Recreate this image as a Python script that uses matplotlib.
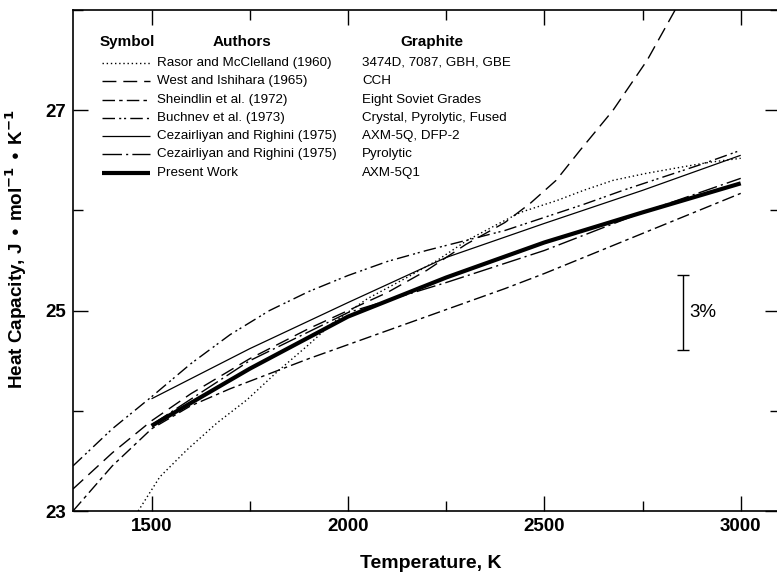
import matplotlib
matplotlib.use("Agg")
import matplotlib.pyplot as plt
from matplotlib.ticker import MultipleLocator

plt.rcParams['font.family'] = ['Liberation Sans', 'DejaVu Sans']

# ---- data (T in K, Cp in J mol^-1 K^-1) ----
rasor_T = [1466, 1521, 1590, 1667, 1743, 1820, 1900, 1962, 2050, 2150, 2227, 2303, 2380, 2439, 2533, 2600, 2675, 2760, 2846, 2920, 3000]
rasor_C = [23.0, 23.34, 23.61, 23.88, 24.11, 24.39, 24.66, 24.88, 25.12, 25.33, 25.5, 25.7, 25.86, 25.98, 26.1, 26.2, 26.3, 26.37, 26.43, 26.48, 26.52]

west_T = [1300, 1400, 1500, 1600, 1750, 1900, 2000, 2100, 2200, 2300, 2400, 2464, 2530, 2591, 2675, 2762, 2833, 2860]
west_C = [23.22, 23.58, 23.9, 24.17, 24.52, 24.82, 25.0, 25.18, 25.4, 25.66, 25.88, 26.07, 26.3, 26.6, 27.0, 27.5, 28.0, 28.2]

shein_T = [1300, 1400, 1500, 1600, 1700, 1800, 1900, 2000, 2100, 2200, 2300, 2400, 2500, 2600, 2700, 2800, 2900, 3000]
shein_C = [23.0, 23.45, 23.82, 24.05, 24.22, 24.37, 24.52, 24.66, 24.8, 24.94, 25.08, 25.22, 25.37, 25.53, 25.69, 25.85, 26.01, 26.17]

buch_T = [1300, 1400, 1500, 1600, 1700, 1800, 1900, 2000, 2100, 2200, 2300, 2400, 2500, 2600, 2700, 2800, 2900, 3000]
buch_C = [23.45, 23.82, 24.14, 24.47, 24.76, 25.0, 25.19, 25.35, 25.49, 25.6, 25.7, 25.8, 25.93, 26.06, 26.2, 26.33, 26.46, 26.6]

cezaxm_T = [1500, 1750, 2000, 2250, 2500, 2750, 3000]
cezaxm_C = [24.12, 24.62, 25.08, 25.53, 25.87, 26.2, 26.55]

cezpyr_T = [1500, 1750, 2000, 2250, 2500, 2750, 3000]
cezpyr_C = [23.86, 24.5, 24.98, 25.28, 25.6, 25.98, 26.32]

present_T = [1500, 1750, 2000, 2250, 2500, 2750, 3000]
present_C = [23.85, 24.42, 24.94, 25.33, 25.68, 25.98, 26.27]

authors = ["Rasor and McClelland (1960)", "West and Ishihara (1965)", "Sheindlin et al. (1972)",
           "Buchnev et al. (1973)", "Cezairliyan and Righini (1975)", "Cezairliyan and Righini (1975)",
           "Present Work"]
graphites = ["3474D, 7087, GBH, GBE", "CCH", "Eight Soviet Grades", "Crystal, Pyrolytic, Fused",
             "AXM-5Q, DFP-2", "Pyrolytic", "AXM-5Q1"]

series = [(rasor_T, rasor_C), (west_T, west_C), (shein_T, shein_C), (buch_T, buch_C),
          (cezaxm_T, cezaxm_C), (cezpyr_T, cezpyr_C), (present_T, present_C)]
styles = [dict(ls=(0, (1, 2)), lw=1.0),
          dict(ls=(0, (10, 5)), lw=1.0),
          dict(ls=(0, (9, 3, 2.5, 3)), lw=1.0),
          dict(ls=(0, (9, 3, 1.5, 2, 1.5, 3)), lw=1.0),
          dict(ls='-', lw=0.9),
          dict(ls=(0, (14, 3, 1.5, 3)), lw=1.0),
          dict(ls='-', lw=3.0)]

bar_T = 2854
bar_C = 24.985
bar_half = 0.375

fig = plt.figure(figsize=(7.77, 5.75), dpi=100)
ax = fig.add_axes([73/777, 64/575, 707/777, 501/575])

for (T, C), st in zip(series, styles):
    ax.plot(T, C, color='black', solid_capstyle='butt', **st)

ax.set_xlim(1300, 3100)
ax.set_ylim(23, 28)
ax.xaxis.set_major_locator(MultipleLocator(500))
ax.xaxis.set_minor_locator(MultipleLocator(250))
ax.set_yticks([23, 25, 27])
ax.set_yticks([24, 26, 28], minor=True)
ax.tick_params(which='both', direction='in', top=True, right=True, width=1.0)
ax.tick_params(which='major', length=11, labelsize=13.5, pad=5)
ax.tick_params(which='minor', length=7)
for lab in ax.get_xticklabels() + ax.get_yticklabels():
    lab.set_fontweight('bold')
for sp in ax.spines.values():
    sp.set_linewidth(1.2)

ax.set_xlabel("Temperature, K", fontsize=14, fontweight='bold')
ax.set_ylabel(r"Heat Capacity, J $\bullet$ mol$^{\mathbf{-1}}$ $\bullet$ K$^{\mathbf{-1}}$",
              fontsize=13.6, fontweight='bold')
ax.xaxis.set_label_coords((431 - 73) / 707, -(555 - 511) / 501)
ax.yaxis.set_label_coords(-(73 - 29) / 707, (511 - 249) / 501)

# legend table
def ax_xy(px, py):
    return (px - 73) / 707, (511 - py) / 501

hy = 42
ax.text(*ax_xy(100, hy), "Symbol", transform=ax.transAxes, fontsize=11, fontweight='bold', va='center', ha='left')
ax.text(*ax_xy(242, hy), "Authors", transform=ax.transAxes, fontsize=11, fontweight='bold', va='center', ha='center')
ax.text(*ax_xy(432, hy), "Graphite", transform=ax.transAxes, fontsize=11, fontweight='bold', va='center', ha='center')
for i, (a, g, st) in enumerate(zip(authors, graphites, styles)):
    py = 63 + i * 18.3
    x0, y0 = ax_xy(102, py)
    x1, _ = ax_xy(150, py)
    ax.plot([x0, x1], [y0, y0], transform=ax.transAxes, color='black', solid_capstyle='butt', **st)
    ax.text(*ax_xy(157, py), a, transform=ax.transAxes, fontsize=9.6, va='center', ha='left')
    ax.text(*ax_xy(362, py), g, transform=ax.transAxes, fontsize=9.6, va='center', ha='left')

# 3% scale bar
ax.errorbar([bar_T], [bar_C], yerr=[bar_half], fmt='none', ecolor='black', elinewidth=1.0, capsize=4, capthick=1.0)
ax.text(bar_T + 15, bar_C, "3%", fontsize=13.5, va='center', ha='left')

fig.savefig("out.png", dpi=100)
